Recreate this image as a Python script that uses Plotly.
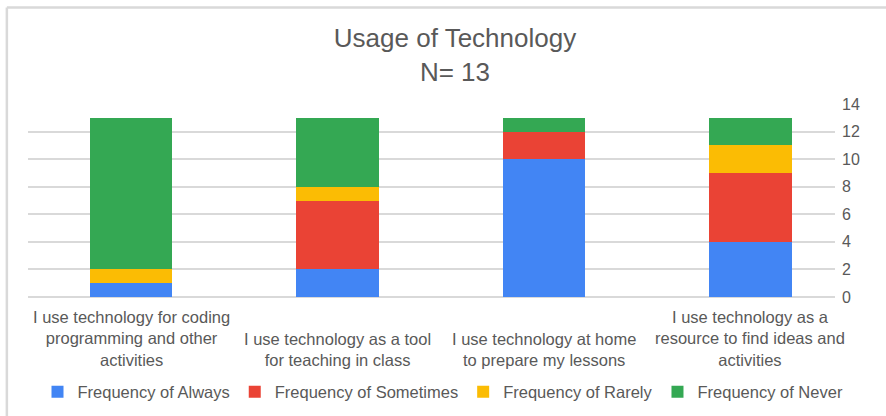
import plotly.graph_objects as go

# Survey categories (one stacked bar each)
categories = [
    "I use technology for coding programming and other activities",
    "I use technology as a tool for teaching in class",
    "I use technology at home to prepare my lessons",
    "I use technology as a resource to find ideas and activities",
]
category_labels = [
    "I use technology for coding<br>programming and other<br>activities",
    "I use technology as a tool<br>for teaching in class",
    "I use technology at home<br>to prepare my lessons",
    "I use technology as a<br>resource to find ideas and<br>activities",
]

# Response counts per frequency level
always = [1, 2, 10, 4]
sometimes = [0, 5, 2, 5]
rarely = [1, 1, 0, 2]
never = [11, 5, 1, 2]

series_names = [
    "Frequency of Always",
    "Frequency of Sometimes",
    "Frequency of Rarely",
    "Frequency of Never",
]
series_values = [always, sometimes, rarely, never]
series_colors = ["#4285F4", "#EA4335", "#FBBC04", "#34A853"]

y_ticks = [0, 2, 4, 6, 8, 10, 12, 14]

FONT = "Liberation Sans, Arial, sans-serif"
TEXT = "#595959"
GRID = "#d9d9d9"

fig = go.Figure()
for name, vals, color in zip(series_names, series_values, series_colors):
    fig.add_trace(go.Bar(
        x=categories, y=vals, name=name,
        marker=dict(color=color, line=dict(width=0)),
    ))

# Category labels, bottom-aligned beneath each bar
for cat, lab in zip(categories, category_labels):
    fig.add_annotation(
        x=cat, xref="x", y=-0.385, yref="paper",
        text=lab, showarrow=False, xanchor="center", yanchor="bottom",
        font=dict(family=FONT, size=16.5, color=TEXT), align="center",
    )

# Chart frame (left and top edges)
fig.add_shape(type="line", xref="paper", yref="paper",
              x0=-0.0262, x1=1.07, y0=1.5, y1=1.5,
              line=dict(color=GRID, width=2.5))
fig.add_shape(type="line", xref="paper", yref="paper",
              x0=-0.0262, x1=-0.0262, y0=1.5, y1=-0.65,
              line=dict(color=GRID, width=2.5))

fig.update_layout(
    width=886, height=416,
    barmode="stack", bargap=0.6,
    plot_bgcolor="white", paper_bgcolor="white",
    margin=dict(l=28, r=51, t=104, b=119),
    font=dict(family=FONT, color=TEXT),
    title=dict(
        text="Usage of Technology<br>N= 13",
        x=455 / 886, xref="container", xanchor="center",
        y=1 - 47 / 416, yref="container", yanchor="top",
        font=dict(family=FONT, size=26, color=TEXT),
    ),
    xaxis=dict(
        range=[-0.5, 3.41], showticklabels=False, showgrid=False,
        zeroline=False, showline=False, fixedrange=True,
    ),
    yaxis=dict(
        side="right", range=[0, 14], tickvals=y_ticks,
        showgrid=True, gridcolor=GRID, gridwidth=1.5,
        zeroline=True, zerolinecolor=GRID, zerolinewidth=1.5,
        showline=False, ticks="", ticklabelstandoff=6,
        tickfont=dict(family=FONT, size=16, color=TEXT),
    ),
    legend=dict(
        orientation="h", x=0.5, xref="container", xanchor="center",
        y=1 - 392 / 416, yref="container", yanchor="middle",
        font=dict(family=FONT, size=16.5, color=TEXT),
        itemwidth=30, traceorder="normal",
    ),
    showlegend=True,
)

fig.write_html("out.html")
